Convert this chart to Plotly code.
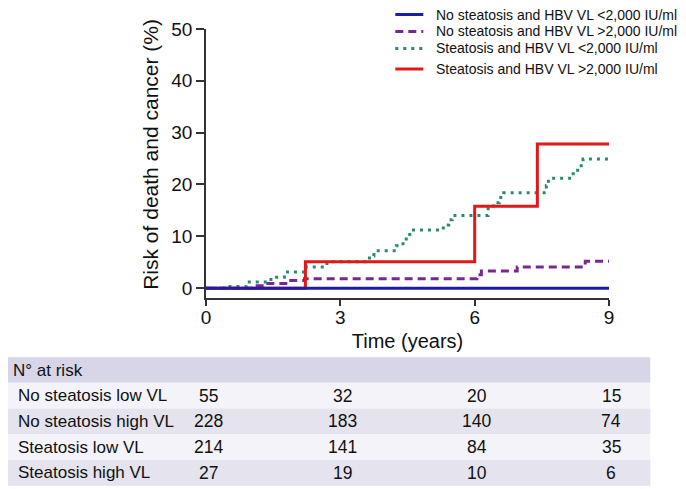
"""
Cumulative risk of death and cancer by steatosis / HBV viral load, with number-at-risk table.
"""

import plotly.graph_objects as go

# Step curves (time in years, cumulative risk in %)
blue_t = [0, 9]
blue_v = [0, 0]

purple_t = [0, 1.05, 1.3, 1.85, 2.2, 6.05, 6.15, 6.95, 8.47, 9.0]
purple_v = [0, 0.45, 0.9, 1.5, 1.8, 2.6, 3.3, 4.1, 5.2, 5.2]

green_t = [0, 0.45, 0.9, 1.45, 1.75, 2.2, 2.7, 3.65, 3.75, 4.25, 4.4, 4.55, 5.3, 5.42,
           5.5, 6.3, 6.42, 6.55, 6.65, 7.6, 7.65, 8.2, 8.3, 8.42, 9.0]
green_v = [0, 0.3, 1.2, 2.1, 3.1, 4.1, 5.1, 6.2, 7.2, 8.2, 9.5, 11.2, 12.2, 13.2,
           14.0, 15.3, 16.5, 17.5, 18.4, 19.8, 21.2, 22.4, 23.6, 24.9, 24.9]

red_t = [0, 2.22, 6.0, 7.4, 9.0]
red_v = [0, 5.1, 15.8, 27.8, 27.8]

series_names = [
    "No steatosis and HBV VL <2,000 IU/ml",
    "No steatosis and HBV VL >2,000 IU/ml",
    "Steatosis and HBV VL <2,000 IU/ml",
    "Steatosis and HBV VL >2,000 IU/ml",
]

# Number at risk table
risk_times = [0, 3, 6, 9]
risk_labels = ["No steatosis low VL", "No steatosis high VL", "Steatosis low VL", "Steatosis high VL"]
risk_counts = [
    [55, 32, 20, 15],
    [228, 183, 140, 74],
    [214, 141, 84, 35],
    [27, 19, 10, 6],
]

FONT = "Liberation Sans, Arial, sans-serif"
TXT = "#111111"
OFF = 8  # page body margin, everything below is placed in window pixels
W, H = 686 - OFF, 489 - OFF
X0, X1, Y0, Y1 = 205.7, 608.7, 29, 298  # plot area in window pixels
M_L, M_R, M_T, M_B = X0 - OFF, W - (X1 - OFF), Y0 - OFF, H - (Y1 - OFF)
PLOT_W = X1 - X0
PLOT_H = Y1 - Y0


def px_x(px):
    return (px - X0) / PLOT_W


def px_y(py):
    return (Y1 - py) / PLOT_H


fig = go.Figure()

line_styles = [
    dict(color="#1c1ca6", width=3),
    dict(color="#7a2796", width=3, dash="8px,5px"),
    dict(color="#2a8a6c", width=3, dash="3px,5px"),
    dict(color="#e01818", width=3),
]
curves = [(blue_t, blue_v), (purple_t, purple_v), (green_t, green_v), (red_t, red_v)]

# draw order: purple, green, red, blue on top
for idx in [1, 2, 3, 0]:
    t, v = curves[idx]
    fig.add_trace(go.Scatter(x=t, y=v, mode="lines", line=line_styles[idx], line_shape="hv",
                             name=series_names[idx], showlegend=False))

axis_common = dict(
    showline=True, linecolor="#333333", linewidth=1.5, ticks="outside",
    tickwidth=1.5, tickcolor="#333333", showgrid=False, zeroline=False,
    tickfont=dict(size=19, color=TXT, family=FONT),
)
fig.update_xaxes(range=[0, 9], tickvals=[0, 3, 6, 9], ticklen=6, ticklabelstandoff=-5, **axis_common,
                 title=dict(text="Time (years)", font=dict(size=20, color=TXT, family=FONT),
                            standoff=7))
fig.update_yaxes(range=[-1.9, 50], tickvals=[0, 10, 20, 30, 40, 50], ticklen=8, **axis_common)

shapes = []
annotations = []

# y title sits a little above the plot centre in the original
annotations.append(dict(text="Risk of death and cancer (%)", xref="paper", yref="paper",
                        x=px_x(149.5), xanchor="center", y=px_y(154), yanchor="middle",
                        textangle=-90, showarrow=False,
                        font=dict(size=21, color=TXT, family=FONT)))

# legend drawn by hand (tight spacing like the original)
legend_rows = [14.5, 31.5, 48.5, 69]
for idx, name in enumerate(series_names):
    ly = px_y(legend_rows[idx])
    shapes.append(dict(type="line", xref="paper", yref="paper", x0=px_x(395), x1=px_x(423),
                       y0=ly, y1=ly, line=dict(line_styles[idx])))
    annotations.append(dict(text=name, xref="paper", yref="paper", x=px_x(434), xanchor="left",
                            y=ly, yanchor="middle", showarrow=False,
                            font=dict(size=14, color=TXT, family=FONT)))

# table backgrounds
row_edges = [357.3, 382.7, 408.5, 434.3, 460.0, 485.7]
row_fills = ["#d7d5e8", "#f4f3f9", "#e4e3ee", "#f4f3f9", "#e4e3ee"]
for i, fill in enumerate(row_fills):
    shapes.append(dict(type="rect", xref="paper", yref="paper", layer="below",
                       x0=px_x(2.7), x1=px_x(650), y0=px_y(row_edges[i + 1]), y1=px_y(row_edges[i]),
                       fillcolor=fill, line=dict(width=0)))

annotations.append(dict(text="N° at risk", xref="paper", yref="paper", x=px_x(11), xanchor="left",
                        y=px_y((row_edges[0] + row_edges[1]) / 2), yanchor="middle", showarrow=False,
                        font=dict(size=17, color=TXT, family=FONT)))
for r, label in enumerate(risk_labels):
    yc = px_y((row_edges[r + 1] + row_edges[r + 2]) / 2)
    annotations.append(dict(text=label, xref="paper", yref="paper", x=px_x(16), xanchor="left",
                            y=yc, yanchor="middle", showarrow=False,
                            font=dict(size=17, color=TXT, family=FONT)))
    for t, n in zip(risk_times, risk_counts[r]):
        annotations.append(dict(text=str(n), xref="x", yref="paper", x=t, xshift=2, xanchor="center",
                                y=yc, yanchor="middle", showarrow=False,
                                font=dict(size=17.5, color=TXT, family=FONT)))

fig.update_layout(
    width=W, height=H, margin=dict(l=M_L, r=M_R, t=M_T, b=M_B, autoexpand=False),
    plot_bgcolor="white", paper_bgcolor="white",
    font=dict(family=FONT, color=TXT),
    showlegend=False,
    shapes=shapes, annotations=annotations,
)

fig.write_html("out.html")
